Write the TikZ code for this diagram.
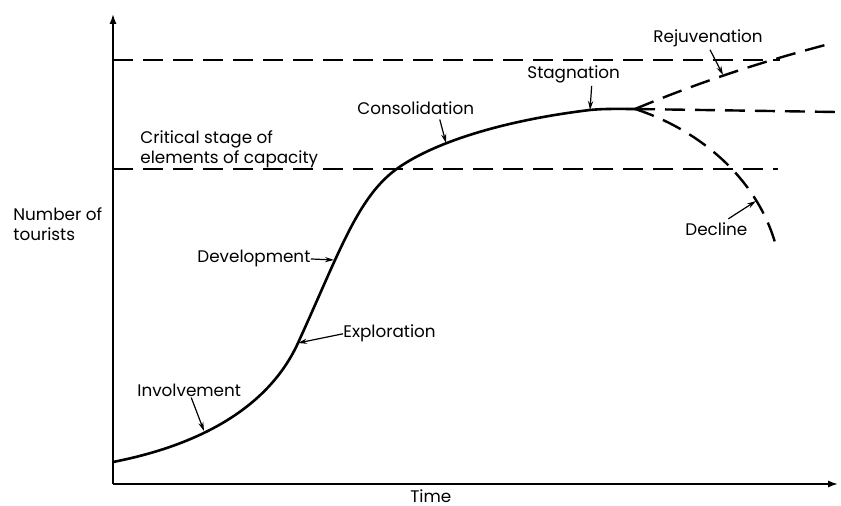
\documentclass[tikz,border=0pt]{standalone}
\usepackage{fontspec}
\setmainfont{Poppins}
\usetikzlibrary{positioning, calc, arrows.meta}
\tikzset{lbl/.style={inner sep=0pt,font=\fontsize{8.4}{10}\selectfont,anchor=base west},
  tag/.style={line width=0.6pt,-{Stealth[length=4.5pt,width=2.6pt]}},
  axis/.style={line width=0.9pt,-{Latex[length=5pt,width=3.6pt]}},
  limit/.style={line width=1pt,dash pattern=on 10pt off 5pt},
  path/.style={line width=1.3pt}}

\begin{document}
\begin{tikzpicture}[x=0.5pt,y=-0.5pt]
		\useasboundingbox (0,0) rectangle (841,506);
		% Draw axes
		\coordinate (o) at (113,484);
		\coordinate (ytop) at (113,14);
		\coordinate (xend) at (838,484);
		\draw[axis] (o) -- (ytop);
		\draw[axis] (o) -- (xend);
		\node[lbl, anchor=north west, align=left] (ylab) at (13,207) {Number of\\tourists};
		\node[lbl] (tlab) at (410,503) {Time};
		% Draw limits
		\coordinate (cap1a) at (113,60);
		\coordinate (cap1b) at (780,60);
		\coordinate (cap2a) at (113,169);
		\coordinate (cap2b) at (778,169);
		\draw[limit] (cap1a) -- (cap1b);
		\draw[limit] (cap2a) -- (cap2b);
		\node[lbl, anchor=north west, align=left] (crit) at (140,130) {Critical stage of\\elements of capacity};
		% Draw the cycle
		\coordinate (start) at (113,462);
		\coordinate (pInv) at (204,431);
		\coordinate (pExp) at (298,343);
		\coordinate (pDev) at (334,260);
		\coordinate (pCap) at (398,168);
		\coordinate (pCon) at (446,143);
		\coordinate (pSta) at (590,110);
		\coordinate (turn) at (635,109);
		\draw[path] (start) .. controls (190,447) and (266,413) .. (pExp)
			.. controls (340,251) and (358,196) .. (pCap)
			.. controls (438,140) and (510,119.6) .. (pSta)
			.. controls (605,108.5) and (620,109) .. (turn);
		\coordinate (pRej) at (723,75);
		\coordinate (rejEnd) at (833,43);
		\coordinate (flatEnd) at (836,112);
		\coordinate (pDec) at (756,201);
		\coordinate (decEnd) at (777,250);
		\draw[limit, line width=1.2pt] (turn) .. controls (700,82) and (760,62) .. (rejEnd);
		\draw[limit, line width=1.2pt] (turn) -- (flatEnd);
		\draw[limit, line width=1.2pt] (turn) .. controls (700,130) and (760,180) .. (decEnd);
		% Stage labels
		\node[lbl] (inv) at (137,397) {Involvement};
		\node[lbl] (exp) at (343,338) {Exploration};
		\node[lbl] (dev) at (197,263) {Development};
		\node[lbl] (con) at (357,115) {Consolidation};
		\node[lbl] (sta) at (527,79) {Stagnation};
		\node[lbl] (rej) at (653,43) {Rejuvenation};
		\node[lbl] (dec) at (685,236) {Decline};
		\draw[tag] ([xshift=1pt]inv.south) -- (pInv);
		\draw[tag] (exp.west) -- (pExp);
		\draw[tag] (dev.east) -- (pDev);
		\draw[tag] ([xshift=12pt,yshift=-2pt]con.south) -- (pCon);
		\draw[tag] ([xshift=9pt,yshift=-1pt]sta.south) -- (pSta);
		\draw[tag] ([xshift=1pt,yshift=-1pt]rej.south) -- (pRej);
		\draw[tag] ([xshift=6pt,yshift=2pt]dec.north) -- (pDec);
	\end{tikzpicture}
\end{document}
